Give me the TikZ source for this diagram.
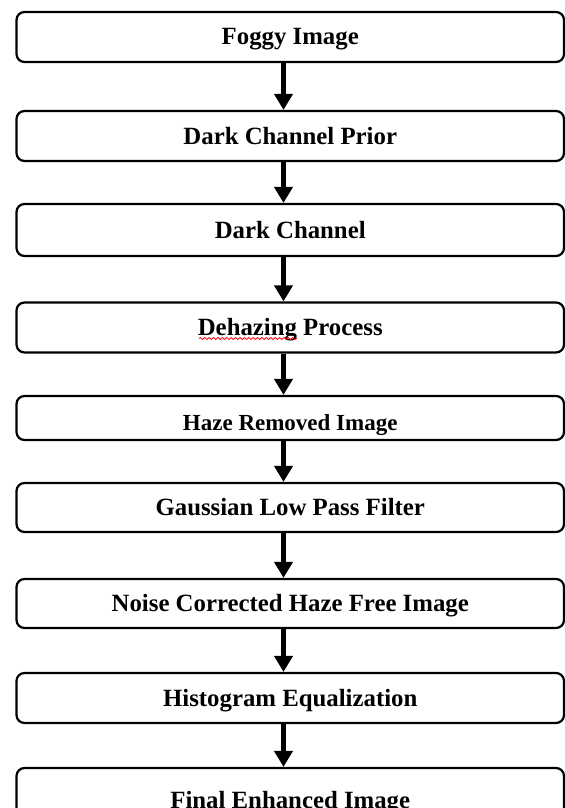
\documentclass[tikz,border=0pt]{standalone}
\usepackage{fontspec}
\setmainfont{Liberation Serif}
\usetikzlibrary{arrows.meta,decorations.pathmorphing}
\tikzset{
  stage/.style={draw, line width=1.1pt, rounded corners=4pt,
    minimum width=273.75pt, minimum height=25pt, inner sep=0pt,
    font=\fontsize{12.4}{14}\selectfont\bfseries,
    text height=10.5pt, text depth=2.5pt},
  flow/.style={line width=2.3pt, -{Triangle[width=9pt,length=8pt]}}
}
\begin{document}
\begin{tikzpicture}[x=0.5pt, y=-0.5pt]
      \useasboundingbox (0,0) rectangle (565,808);
      \node[stage] (0) at (290.25,37) {Foggy Image};
      \node[stage] (1) at (290.25,136) {Dark Channel Prior};
      \node[stage, minimum height=26pt] (2) at (290.25,230) {Dark Channel};
      \node[stage] (3) at (290.25,327.5) {Dehazing Process};
      \node[stage, minimum height=22pt, font=\fontsize{11.5}{13}\selectfont\bfseries,
        text height=15pt] (4) at (290.25,418) {Haze Removed Image};
      \node[stage, minimum height=24.5pt] (5) at (290.25,507.5) {Gaussian Low Pass Filter};
      \node[stage, minimum height=24.5pt] (6) at (290.25,603.5) {Noise Corrected Haze Free Image};
      \node[stage] (7) at (290.25,698) {Histogram Equalization};
      \node[stage, minimum height=32pt] (8) at (290.25,800) {Final Enhanced Image};
      % spell-check underline
      \draw[red, line width=0.4pt, decorate,
        decoration={snake, amplitude=0.5pt, segment length=2.2pt}]
        (199,338.5) -- (297,338.5);
      \coordinate (ax) at (283.5,0);
      \begin{scope}[flow]
        \draw (0.south -| ax) to (1.north -| ax);
        \draw (1.south -| ax) to (2.north -| ax);
        \draw (2.south -| ax) to (3.north -| ax);
        \draw (3.south -| ax) to (4.north -| ax);
        \draw (4.south -| ax) to (5.north -| ax);
        \draw (5.south -| ax) to (6.north -| ax);
        \draw (6.south -| ax) to (7.north -| ax);
        \draw (7.south -| ax) to (8.north -| ax);
      \end{scope}
    \end{tikzpicture}
\end{document}
